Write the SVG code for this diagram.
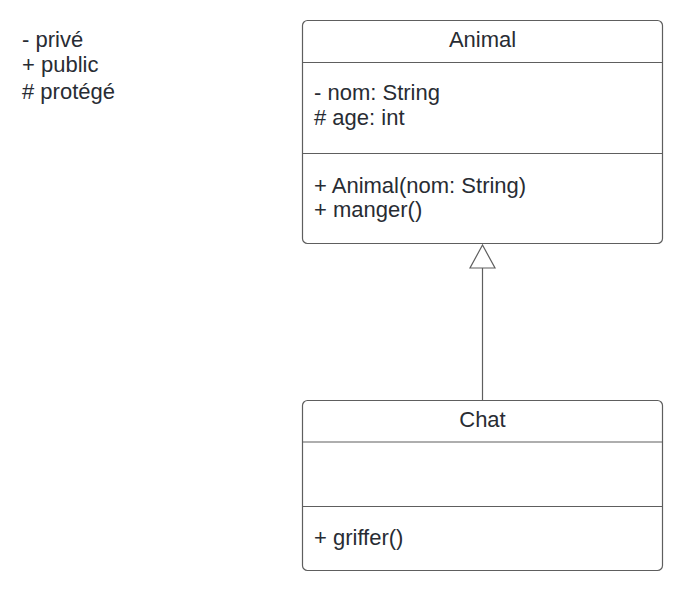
<svg xmlns="http://www.w3.org/2000/svg" width="682" height="591" viewBox="0 0 682 591">
<style>
.box{fill:#ffffff;stroke:#5e5e5e;stroke-width:1.2}
.div{stroke:#5e5e5e;stroke-width:1.2}
.t{font-family:"Liberation Sans",Arial,sans-serif;font-size:22px;fill:#282c33}
.c{text-anchor:middle}
.edge{stroke:#5e5e5e;stroke-width:1.2;fill:none}
.head{stroke:#5e5e5e;stroke-width:1.2;fill:#ffffff}
</style>
<rect width="682" height="591" fill="#ffffff"/>
<g id="legend">
<text class="t" x="22" y="47">- privé</text>
<text class="t" x="22" y="72">+ public</text>
<text class="t" x="22" y="99"># protégé</text>
</g>
<g id="connectors">
<line class="edge" x1="482.5" y1="400" x2="482.5" y2="268"/>
<polygon class="head" points="482.5,245 470,268 495,268"/>
</g>
<g id="Animal">
<rect class="box" x="302.5" y="20.5" width="360" height="223" rx="5"/>
<line class="div" x1="302.5" y1="62.5" x2="662.5" y2="62.5"/>
<line class="div" x1="302.5" y1="153.5" x2="662.5" y2="153.5"/>
<text class="t c" x="482.5" y="47">Animal</text>
<text class="t" x="314" y="100">- nom: String</text>
<text class="t" x="314" y="125"># age: int</text>
<text class="t" x="314" y="193">+ Animal(nom: String)</text>
<text class="t" x="314" y="217">+ manger()</text>
</g>
<g id="Chat">
<rect class="box" x="302.5" y="400.5" width="360" height="170" rx="5"/>
<line class="div" x1="302.5" y1="442" x2="662.5" y2="442"/>
<line class="div" x1="302.5" y1="506.5" x2="662.5" y2="506.5"/>
<text class="t c" x="482.5" y="427">Chat</text>
<text class="t" x="314" y="545">+ griffer()</text>
</g>
</svg>
